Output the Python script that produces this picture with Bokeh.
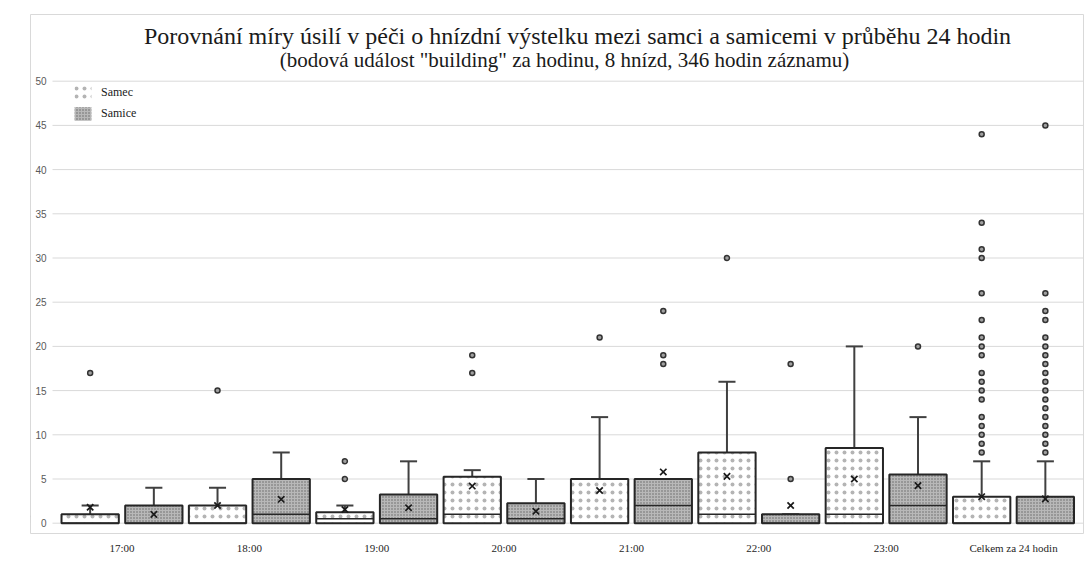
from bokeh.plotting import figure
from bokeh.models import Range1d, FixedTicker, Label, Legend, LegendItem
from bokeh.embed import file_html
from bokeh.resources import INLINE

# ---------------- data ----------------
categories = ["17:00", "18:00", "19:00", "20:00", "21:00", "22:00", "23:00", "Celkem za 24 hodin"]

samec_q1 = [0, 0, 0, 0, 0, 0, 0, 0]
samec_median = [0, 0, 0.5, 1, 0, 1, 1, 0]
samec_q3 = [1, 2, 1.25, 5.25, 5, 8, 8.5, 3]
samec_whisker = [2, 4, 2, 6, 12, 16, 20, 7]
samec_mean = [1.8, 2.0, 1.55, 4.2, 3.7, 5.3, 5.0, 3.0]
samec_outliers = [[17], [15], [7, 5], [19, 17], [21], [30], [],
                  [44, 34, 31, 30, 26, 23, 21, 20, 19, 17, 16, 15, 14, 12, 11, 10, 9, 8]]

samice_q1 = [0, 0, 0, 0, 0, 0, 0, 0]
samice_median = [0, 1, 0.5, 0.5, 2, 0, 2, 0]
samice_q3 = [2, 5, 3.25, 2.25, 5, 1, 5.5, 3]
samice_whisker = [4, 8, 7, 5, 5, 1, 12, 7]
samice_mean = [1.0, 2.7, 1.75, 1.35, 5.8, 2.0, 4.25, 2.75]
samice_outliers = [[], [], [], [], [24, 19, 18], [18, 5], [20],
                   [45, 26, 24, 23, 21, 20, 19, 18, 17, 16, 15, 14, 13, 12, 11, 10, 9, 8]]

y_ticks = [0, 5, 10, 15, 20, 25, 30, 35, 40, 45, 50]

title_text = "Porovnání míry úsilí v péči o hnízdní výstelku mezi samci a samicemi v průběhu 24 hodin"
subtitle_text = "(bodová událost \"building\" za hodinu, 8 hnízd, 346 hodin záznamu)"
x_title = "Čas"
y_title = "Počet"
series_names = ["Samec", "Samice"]

# ---------------- layout helpers ----------------
W, H = 1084, 569
PX0, PXU = 121.5, 127.36      # px of first category centre, px per category
PY0, PYU = 522.7, 8.84        # px of value 0, px per unit
FL, FT, FR, FB = 30, 14, 1084, 533   # frame edges


def dx(px):
    return (px - PX0) / PXU


def dy(py):
    return (PY0 - py) / PYU


p = figure(width=W, height=H, output_backend="svg", toolbar_location=None, title=None,
           x_range=Range1d(dx(FL), dx(FR)), y_range=Range1d(dy(FB), dy(FT)),
           min_border_left=FL, min_border_top=FT, min_border_right=W - FR,
           min_border_bottom=H - FB)
p.outline_line_color = "#d9d9d9"
p.outline_line_width = 1
p.xgrid.visible = False
p.ygrid.visible = False
p.background_fill_color = "white"
p.border_fill_color = "white"

# y axis placed inside the frame
yax = p.yaxis[0]
yax.fixed_location = dx(52)
yax.ticker = FixedTicker(ticks=y_ticks)
yax.axis_line_color = None
yax.major_tick_line_color = None
yax.minor_tick_line_color = None
yax.major_tick_out = 0
yax.major_tick_in = 0
yax.major_label_standoff = 6
yax.major_label_text_font = "Liberation Sans"
yax.major_label_text_font_size = "10px"
yax.major_label_text_color = "#595959"

# x axis
xax = p.xaxis[0]
xax.ticker = FixedTicker(ticks=list(range(len(categories))))
xax.major_label_overrides = {i: c for i, c in enumerate(categories)}
xax.axis_line_color = None
xax.major_tick_line_color = None
xax.minor_tick_line_color = None
xax.major_tick_out = 0
xax.major_tick_in = 0
xax.major_label_standoff = 8
xax.major_label_text_font = "Liberation Serif"
xax.major_label_text_font_size = "11px"
xax.major_label_text_color = "#262626"

# gridlines
gx0 = dx(52)
p.segment(x0=[gx0] * len(y_ticks), x1=[dx(FR)] * len(y_ticks), y0=y_ticks, y1=y_ticks,
          line_color="#d9d9d9", line_width=1)

OFF = 0.25
BW = 0.45
CAP = 0.067
EDGE = "#262626"

styles = [
    dict(fill_color="white", hatch_pattern="dot", hatch_scale=8, hatch_color="#8c8c8c",
         hatch_weight=0.5, hatch_alpha=0.65),
    dict(fill_color="#b8b8b8", hatch_pattern="dot", hatch_scale=3, hatch_color="#666666", hatch_weight=1),
]
series = [
    (samec_q1, samec_median, samec_q3, samec_whisker, samec_mean, samec_outliers, -OFF),
    (samice_q1, samice_median, samice_q3, samice_whisker, samice_mean, samice_outliers, OFF),
]

legend_items = []
for (q1, med, q3, wh, mn, outl, off), st, name in zip(series, styles, series_names):
    xs = [i + off for i in range(len(categories))]
    # whiskers
    p.segment(x0=xs, x1=xs, y0=q3, y1=wh, line_color="#404040", line_width=2)
    p.segment(x0=[x - CAP for x in xs], x1=[x + CAP for x in xs], y0=wh, y1=wh,
              line_color="#404040", line_width=2)
    # boxes
    p.vbar(x=xs, width=BW, bottom=q1, top=q3, line_color=EDGE, line_width=2, **st)
    # medians
    p.segment(x0=[x - BW / 2 for x in xs], x1=[x + BW / 2 for x in xs], y0=med, y1=med,
              line_color=EDGE, line_width=1.5)
    # means
    p.scatter(x=xs, y=mn, marker="x", size=9, line_color="#1a1a1a", line_width=1.7)
    # outliers
    ox, oy = [], []
    for x, vals in zip(xs, outl):
        for v in vals:
            ox.append(x)
            oy.append(v)
    p.scatter(x=ox, y=oy, marker="circle", size=5, fill_color="#a0a0a0", line_color="#333333",
              line_width=1.5)
    # legend swatch renderer (kept off the visible range)
    r = p.vbar(x=[-50], width=BW, top=[1], bottom=[0], line_color=None, **st)
    legend_items.append(LegendItem(label=name, renderers=[r]))

legend = Legend(items=legend_items, location=(72 - FL, FB - 122), orientation="vertical",
                glyph_width=21, glyph_height=17, spacing=4, padding=0, margin=0,
                label_standoff=8, label_text_font="Liberation Serif", label_text_font_size="12px",
                label_text_color="#1a1a1a", border_line_color=None, background_fill_alpha=0)
p.add_layout(legend, "center")

# titles
p.add_layout(Label(x=577 - FL, y=FB - 35, x_units="screen", y_units="screen", text=title_text,
                   text_font="Liberation Serif", text_font_size="24px", text_color="#1a1a1a",
                   text_align="center", text_baseline="middle"))
p.add_layout(Label(x=564 - FL, y=FB - 59.5, x_units="screen", y_units="screen", text=subtitle_text,
                   text_font="Liberation Serif", text_font_size="21px", text_color="#1a1a1a",
                   text_align="center", text_baseline="middle"))
p.add_layout(Label(x=503 - FL, y=FB - 562, x_units="screen", y_units="screen", text=x_title,
                   text_font="Liberation Serif", text_font_size="12px", text_color="#1a1a1a",
                   text_align="center", text_baseline="middle"))
p.add_layout(Label(x=17 - FL, y=FB - 302, x_units="screen", y_units="screen", text=y_title,
                   text_font="Liberation Serif", text_font_size="12px", text_color="#1a1a1a",
                   text_align="center", text_baseline="middle", angle=1.5708))

open("out.html", "w").write(file_html(p, INLINE))
